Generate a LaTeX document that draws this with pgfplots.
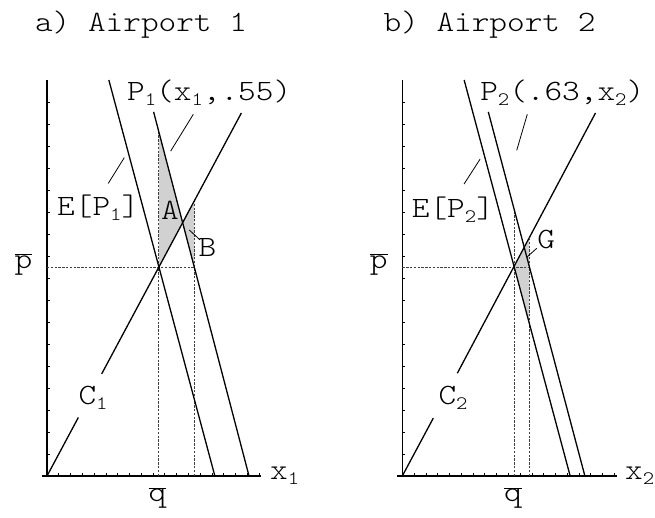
\documentclass[border=0pt]{standalone}
\usepackage{pgfplots}
\pgfplotsset{compat=1.18}
\usepackage{fontspec}
% light typewriter face, widened a little
\setmainfont{lmmonolt10-regular.otf}[FakeStretch=1.14]

\definecolor{shade}{gray}{0.82}
\newcommand{\sub}[1]{\raisebox{-5bp}{\fontsize{19bp}{19bp}\selectfont#1}}
\newcommand{\barp}{$\overline{\mbox{p}}$}
\newcommand{\barq}{$\overline{\mbox{q}}$}

\pgfplotsset{
  panel/.style={
    x=11.78bp, y=22bp,
    xmin=-0.45, xmax=18.2, ymin=0, ymax=18,
    axis lines=middle,
    axis line style={-, line width=1.2bp},
    xtick={0,...,18}, ytick={1,...,17},
    xticklabels={}, yticklabels={},
    major tick length=3bp,
    tick align=inside,
    tick style={line width=0.7bp, black},
    clip=false,
    anchor=south west,
  },
  curve/.style={black, line width=1.3bp},
  guide/.style={black!75, line width=0.9bp, dash pattern=on 2.4bp off 1.4bp},
}
\tikzset{leader/.style={black, line width=0.8bp}}

\begin{document}
\fontsize{29.5bp}{34bp}\selectfont
\begin{tikzpicture}
\useasboundingbox (0,0) rectangle (655bp,518bp);

% ---------------- a) Airport 1 ----------------
\begin{axis}[panel, at={(41.7bp,42bp)}]
  % shaded areas A and B
  \addplot[fill=shade, draw=none] coordinates {(9.5,9.5) (9.5,15.63) (11.515,11.515)} -- cycle;
  \addplot[fill=shade, draw=none] coordinates {(11.515,11.515) (12.5,12.5) (12.5,9.5)} -- cycle;
  % reference lines at the equilibrium
  \addplot[guide] coordinates {(0,9.5) (12.5,9.5)};
  \addplot[guide] coordinates {(9.5,0) (9.5,15.63)};
  \addplot[guide] coordinates {(12.5,0) (12.5,12.5)};
  % cost curve C1 (broken around its label)
  \addplot[curve] coordinates {(0,0) (2.66,2.66)};
  \addplot[curve] coordinates {(4.64,4.64) (16.5,16.5)};
  % expected price E[P1]
  \addplot[curve] coordinates {(5.25,18) (14.25,0)};
  % price P1(x1,.55)
  \addplot[curve] coordinates {(9.05,16.55) (17.15,0)};
  % leaders
  \draw[leader] (12.42,16.44) -- (10.5,14.77);
  \draw[leader] (5.2,13.3) -- (6.56,14.47);
  \draw[leader] (12.08,11.18) -- (12.99,10.73);
  % labels
  \node[anchor=base] at (7.98,20.2) {a) Airport 1};
  \node[anchor=base west, inner sep=0pt] at (6.79,17.09) {P\sub{1}(x\sub{1},.55)};
  \node[anchor=base west, inner sep=0pt] at (0.85,11.86) {E[P\sub{1}]};
  \node[anchor=base, inner sep=0pt] at (10.44,11.64) {A};
  \node[anchor=base, inner sep=0pt] at (13.62,9.97) {B};
  \node[anchor=base west, inner sep=0pt] at (2.66,3.23) {C\sub{1}};
  \node[anchor=base, inner sep=0pt] at (-2.0,9.44) {\barp};
  \node[anchor=base, inner sep=0pt] at (9.38,-1.18) {\barq};
  \node[anchor=base west, inner sep=0pt] at (18.93,-0.18) {x\sub{1}};
\end{axis}

% ---------------- b) Airport 2 ----------------
\begin{axis}[panel, at={(397bp,42bp)}]
  % shaded area G
  \addplot[fill=shade, draw=none] coordinates {(9.5,9.5) (10.79,10.79) (10.79,6.92)} -- cycle;
  % reference lines at the equilibrium
  \addplot[guide] coordinates {(0,9.5) (10.79,9.5)};
  \addplot[guide] coordinates {(9.5,0) (9.5,12.11)};
  \addplot[guide] coordinates {(10.79,0) (10.79,10.79)};
  % cost curve C2 (broken around its label)
  \addplot[curve] coordinates {(0,0) (2.63,2.63)};
  \addplot[curve] coordinates {(4.67,4.67) (16.4,16.5)};
  % expected price E[P2]
  \addplot[curve] coordinates {(5.25,18) (14.25,0)};
  % price P2(.63,x2)
  \addplot[curve] coordinates {(7.3,16.55) (15.5,0)};
  % leaders
  \draw[leader] (10.61,16.44) -- (9.71,14.8);
  \draw[leader] (5.24,13.27) -- (6.6,14.4);
  \draw[leader] (10.56,9.94) -- (11.41,10.35);
  % labels
  \node[anchor=base] at (7.4,20.2) {b) Airport 2};
  \node[anchor=base west, inner sep=0pt] at (6.6,17.09) {P\sub{2}(.63,x\sub{2})};
  \node[anchor=base west, inner sep=0pt] at (0.8,11.76) {E[P\sub{2}]};
  \node[anchor=base, inner sep=0pt] at (12.22,10.35) {G};
  \node[anchor=base west, inner sep=0pt] at (3.06,3.23) {C\sub{2}};
  \node[anchor=base, inner sep=0pt] at (-2.0,9.44) {\barp};
  \node[anchor=base, inner sep=0pt] at (9.4,-1.18) {\barq};
  \node[anchor=base west, inner sep=0pt] at (18.9,-0.18) {x\sub{2}};
\end{axis}
\end{tikzpicture}
\end{document}
